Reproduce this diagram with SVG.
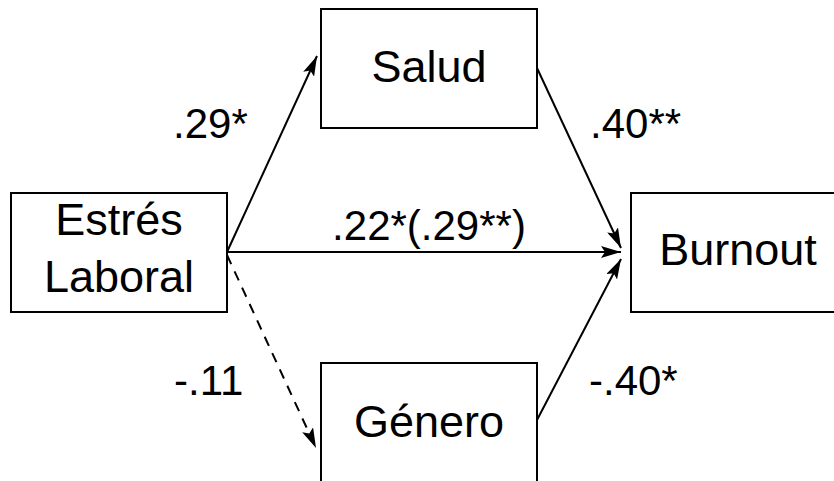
<svg xmlns="http://www.w3.org/2000/svg" width="834" height="481" viewBox="0 0 834 481">
<style>
.box{fill:#fff;stroke:#000;stroke-width:2}
.nt{font-family:"Liberation Sans",Arial,sans-serif;font-size:45px;fill:#000;text-anchor:middle}
.lb{font-family:"Liberation Sans",Arial,sans-serif;font-size:42px;fill:#000}
.ln{stroke:#000;stroke-width:2;fill:none}
</style>
<defs>
<marker id="ah" viewBox="0 0 10 10" refX="10" refY="5" markerWidth="10" markerHeight="10" markerUnits="userSpaceOnUse" orient="auto">
<path d="M0,1 L10,5 L0,9 z" fill="#000"/>
</marker>
<marker id="ahl" viewBox="0 0 20 12" refX="20" refY="6" markerWidth="20" markerHeight="12" markerUnits="userSpaceOnUse" orient="auto">
<path d="M0,0 L20,6 L0,12 L4,6 z" fill="#000"/>
</marker>
</defs>
<rect width="834" height="481" fill="#fff"/>
<g id="connectors">
<line class="ln" x1="227" y1="252" x2="317" y2="56" marker-end="url(#ahl)"/>
<line class="ln" x1="227" y1="252" x2="621" y2="252" marker-end="url(#ahl)"/>
<line class="ln" x1="537" y1="68" x2="621" y2="248" marker-end="url(#ahl)"/>
<line class="ln" x1="537" y1="420" x2="621" y2="259" marker-end="url(#ahl)"/>
<line class="ln" x1="227" y1="255" x2="316" y2="448" stroke-dasharray="10,8" marker-end="url(#ahl)"/>
</g>
<g id="estres">
<rect class="box" x="11" y="193" width="216" height="119"/>
<text class="nt" x="119" y="235">Estrés</text>
<text class="nt" x="119" y="292">Laboral</text>
</g>
<g id="salud">
<rect class="box" x="321" y="9" width="216" height="119"/>
<text class="nt" x="429" y="82">Salud</text>
</g>
<g id="burnout">
<rect class="box" x="631" y="193" width="216" height="119"/>
<text class="nt" x="738" y="265">Burnout</text>
</g>
<g id="genero">
<rect class="box" x="321" y="363" width="216" height="125"/>
<text class="nt" x="429" y="437">Género</text>
</g>
<g id="labels">
<text class="lb" x="173" y="138">.29*</text>
<text class="lb" x="590" y="138">.40**</text>
<text class="lb" x="429" y="240" text-anchor="middle">.22*(.29**)</text>
<text class="lb" x="174" y="395">-.11</text>
<text class="lb" x="589" y="395">-.40*</text>
</g>
</svg>
